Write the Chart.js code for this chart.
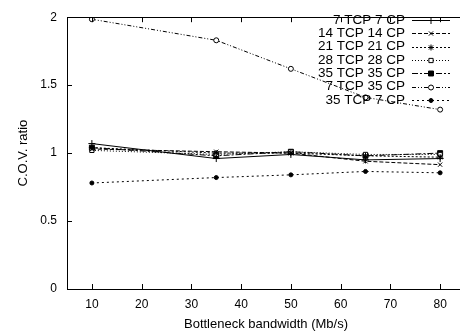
<!DOCTYPE html>
<html>
<head>
<meta charset="utf-8">
<script src="https://cdn.jsdelivr.net/npm/chart.js@4.4.1/dist/chart.umd.min.js"></script>
<style>
  html, body { margin: 0; padding: 0; background: #fff; overflow: hidden; }
  #wrap { width: 460px; height: 335px; overflow: hidden; }
</style>
</head>
<body>
<div id="wrap"><canvas id="covChart" width="470" height="335"></canvas></div>
<script>
// bandwidth points (Mb/s)
const bandwidths = [10, 35, 50, 65, 80];
const xTicks = [10, 20, 30, 40, 50, 60, 70, 80];
const yTicks = [0, 0.5, 1, 1.5, 2];

const seriesLabels = ['7 TCP 7 CP', '14 TCP 14 CP', '21 TCP 21 CP', '28 TCP 28 CP',
                      '35 TCP 35 CP', '7 TCP 35 CP', '35 TCP 7 CP'];
const tcp7cp7   = [1.07, 0.96, 0.99, 0.95, 0.96];
const tcp14cp14 = [1.03, 1.01, 1.00, 0.94, 0.915];
const tcp21cp21 = [1.04, 1.00, 1.00, 0.98, 0.97];
const tcp28cp28 = [1.02, 0.99, 1.01, 0.99, 0.99];
const tcp35cp35 = [1.04, 0.98, 1.01, 0.98, 1.00];
const tcp7cp35  = [1.985, 1.83, 1.62, 1.41, 1.32];
const tcp35cp7  = [0.78, 0.82, 0.84, 0.865, 0.855];

const seriesValues = [tcp7cp7, tcp14cp14, tcp21cp21, tcp28cp28, tcp35cp35, tcp7cp35, tcp35cp7];

// gnuplot-ish styles: dash pattern + marker
const styles = [
    { dash: [],                  point: 'cross',    radius: 3.5, fill: '#000' },
    { dash: [4, 2],              point: 'crossRot', radius: 3,   fill: '#000' },
    { dash: [2, 2],              point: 'star',     radius: 3,   fill: '#000' },
    { dash: [1, 2],              point: 'rect',     radius: 3,   fill: '#fff' },
    { dash: [6, 2, 2, 2],        point: 'rect',     radius: 3.5, fill: '#000' },
    { dash: [4, 2, 1, 2, 1, 2],  point: 'circle',   radius: 2.5, fill: '#fff' },
    { dash: [2, 3],              point: 'circle',   radius: 2,   fill: '#000' }
];

const FONT = '"Liberation Sans", Arial, Helvetica, sans-serif';

const datasets = seriesLabels.map((label, i) => ({
    label: label,
    data: bandwidths.map((bw, j) => ({ x: bw, y: seriesValues[i][j] })),
    borderColor: '#000',
    borderWidth: 1,
    borderDash: styles[i].dash,
    pointStyle: styles[i].point,
    pointRadius: styles[i].radius,
    pointBorderColor: '#000',
    pointBorderWidth: 1,
    pointBackgroundColor: styles[i].fill,
    tension: 0,
    fill: false
}));

// frame, inward ticks and a gnuplot-like legend (text right, sample left)
const gnuplotDecor = {
    id: 'gnuplotDecor',
    afterDraw(chart) {
        const ctx = chart.ctx;
        const area = chart.chartArea;
        const xs = chart.scales.x;
        const ys = chart.scales.y;
        ctx.save();
        ctx.strokeStyle = '#000';
        ctx.lineWidth = 1;
        ctx.setLineDash([]);
        ctx.strokeRect(Math.round(area.left) + 0.5, Math.round(area.top) + 0.5,
                       Math.round(area.right - area.left), Math.round(area.bottom - area.top));
        ctx.beginPath();
        xTicks.forEach(v => {
            const px = Math.round(xs.getPixelForValue(v)) + 0.5;
            ctx.moveTo(px, area.bottom); ctx.lineTo(px, area.bottom - 5);
            ctx.moveTo(px, area.top); ctx.lineTo(px, area.top + 5);
        });
        yTicks.forEach(v => {
            const py = Math.round(ys.getPixelForValue(v)) + 0.5;
            ctx.moveTo(area.left, py); ctx.lineTo(area.left + 5, py);
            ctx.moveTo(area.right, py); ctx.lineTo(area.right - 5, py);
        });
        ctx.stroke();

        // legend
        ctx.font = '13.5px ' + FONT;
        ctx.textAlign = 'right';
        ctx.textBaseline = 'middle';
        ctx.fillStyle = '#000';
        const textRight = 405, x0 = 412, x1 = 450;
        chart.data.datasets.forEach((ds, i) => {
            const y = 20 + i * 13.3;
            ctx.fillText(ds.label, textRight, y);
            ctx.beginPath();
            ctx.setLineDash(ds.borderDash);
            ctx.moveTo(x0, Math.round(y) + 0.5);
            ctx.lineTo(x1, Math.round(y) + 0.5);
            ctx.stroke();
            ctx.setLineDash([]);
            if (Chart.helpers && Chart.helpers.drawPoint) {
                ctx.fillStyle = ds.pointBackgroundColor;
                ctx.strokeStyle = '#000';
                Chart.helpers.drawPoint(ctx, {
                    pointStyle: ds.pointStyle, radius: ds.pointRadius,
                    rotation: 0, borderWidth: 1
                }, (x0 + x1) / 2, Math.round(y) + 0.5);
                ctx.fillStyle = '#000';
            }
        });
        ctx.restore();
    }
};

new Chart(document.getElementById('covChart').getContext('2d'), {
    type: 'line',
    data: { datasets: datasets },
    options: {
        responsive: false,
        animation: false,
        layout: { padding: { top: 11, right: 5, left: 0, bottom: 0 } },
        plugins: {
            legend: { display: false },
            tooltip: { enabled: false }
        },
        scales: {
            x: {
                type: 'linear',
                min: 5,
                max: 85,
                afterBuildTicks: scale => { scale.ticks = xTicks.map(v => ({ value: v })); },
                afterFit: scale => { scale.height = 46; },
                grid: { display: false, drawTicks: false },
                border: { display: false },
                ticks: { color: '#000', padding: 8, font: { family: FONT, size: 12 } },
                title: {
                    display: true,
                    text: 'Bottleneck bandwidth (Mb/s)',
                    color: '#000',
                    padding: { top: 0, bottom: 3 },
                    font: { family: FONT, size: 13 }
                }
            },
            y: {
                min: 0,
                max: 2,
                afterBuildTicks: scale => { scale.ticks = yTicks.map(v => ({ value: v })); },
                afterFit: scale => { scale.width = 67; },
                grid: { display: false, drawTicks: false },
                border: { display: false },
                ticks: {
                    color: '#000', padding: 10, font: { family: FONT, size: 12 },
                    callback: value => String(value)
                },
                title: {
                    display: true,
                    text: 'C.O.V. ratio',
                    color: '#000',
                    padding: { top: 16, bottom: 0 },
                    font: { family: FONT, size: 13 }
                }
            }
        }
    },
    plugins: [gnuplotDecor]
});
</script>
</body>
</html>
